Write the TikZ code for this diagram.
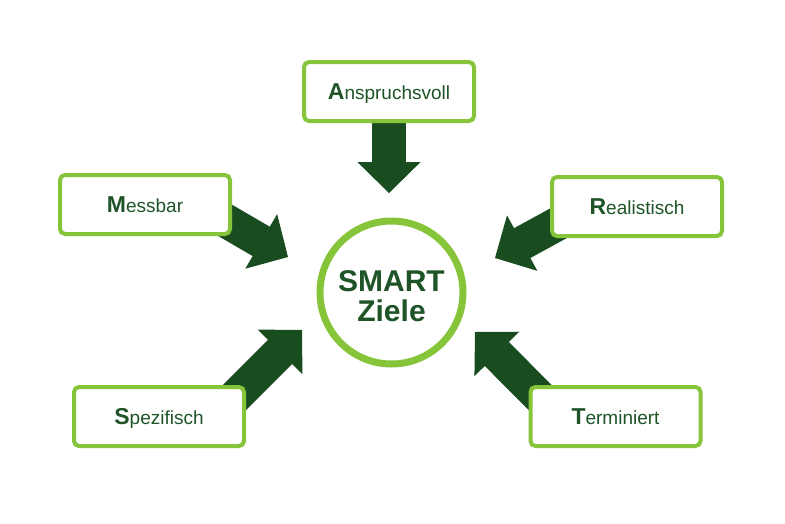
\documentclass[tikz,border=0pt]{standalone}
\usepackage{fontspec}
\setmainfont{Liberation Sans}
\usetikzlibrary{arrows.meta, calc, backgrounds}
\definecolor{clime}{HTML}{86C43A}
\definecolor{cdark}{HTML}{194D20}
\definecolor{ctext}{HTML}{1E5427}
\newcommand{\initial}[1]{{\fontsize{23}{26}\selectfont\bfseries #1}}
\tikzset{
  every picture/.style={x=1pt, y=-1pt},
  box/.style={draw=clime, fill=white, rounded corners=5pt, line width=4pt, minimum width=170pt, minimum height=59pt, inner sep=0pt, text=ctext, font=\fontsize{19}{22}\selectfont, text height=20pt, text depth=4pt},
  goalring/.style={circle, draw=clime, fill=white, line width=7pt, minimum size=143pt, inner sep=0pt},
  goaltext/.style={align=center, text=ctext, font=\fontsize{30}{30}\selectfont\bfseries},
  bigarrow/.style={draw=cdark, line width=34pt, -{Triangle[length=31pt, width=63pt, line width=1pt, fill=cdark]}},
}

\begin{document}
\begin{tikzpicture}
  \useasboundingbox (0,0) rectangle (785,523);
  % centre: the goal
  \node[goalring] (goal) at (391.5,292.5) {};
  \node[goaltext] (goaltxt) at ([yshift=-4pt]goal.center) {SMART\\Ziele};
  % the five letters round it
  \node[box] (ans) at (389,91.5) {\initial{A}nspruchsvoll};
  \node[box] (mess) at (145,204.5) {\initial{M}essbar};
  \node[box] (real) at (637,206.5) {\initial{R}ealistisch};
  \node[box] (spez) at (159,416.5) {\initial{S}pezifisch};
  \node[box] (term) at (615.5,416.5) {\initial{T}erminiert};
  % arrow tips, short of the ring
  \coordinate (anstip) at (389,193);
  \coordinate (messtip) at (288,257);
  \coordinate (realtip) at (495,258);
  \coordinate (speztip) at (302,330);
  \coordinate (termtip) at (475,332);
  \begin{scope}[on background layer]
    \draw[bigarrow] (ans) -- (anstip);
    \draw[bigarrow] ([shift={(-17.4,-21.8)}]mess.south east) -- (messtip);
    \draw[bigarrow] ([shift={(19.5,-20.8)}]real.south west) -- (realtip);
    \draw[bigarrow] ([shift={(-19,20)}]spez.north east) -- (speztip);
    \draw[bigarrow] ([shift={(19,20)}]term.north west) -- (termtip);
  \end{scope}
\end{tikzpicture}
\end{document}
